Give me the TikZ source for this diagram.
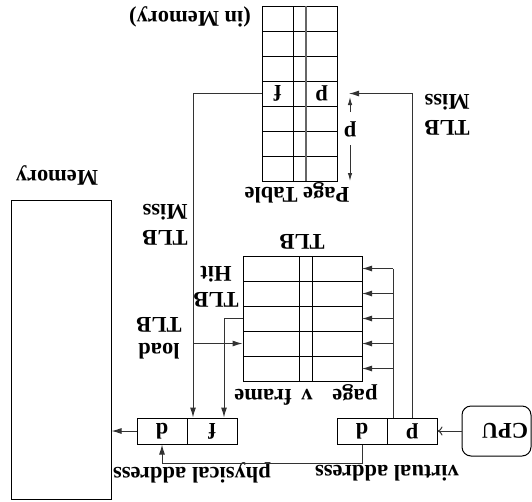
\documentclass[tikz,border=0pt]{standalone}
\usepackage{fontspec}
\setmainfont{Liberation Serif}
\usetikzlibrary{arrows.meta,calc}
\begin{document}
\begin{tikzpicture}[x=1pt,y=-1pt,
  lbl/.style={rotate=180,font=\fontsize{22.5}{26}\selectfont\bfseries,inner sep=0pt,align=center},
  box/.style={draw=black,line width=1pt,inner sep=0pt},
  cell/.style={box,minimum width=50pt,minimum height=26pt},
  grid/.style={draw=black,line width=1pt},
  conn/.style={draw=black!80,line width=1pt},
  arr/.style={conn,-{Latex[length=10pt,width=6pt]}},
  thinarr/.style={conn,-{Latex[length=8pt,width=4.5pt]}},
  openarr/.style={conn,-{To[length=5pt,width=9pt]}}
]
\useasboundingbox (0,0) rectangle (532,501);

% Memory
\node[box,minimum width=100pt,minimum height=299pt] (mem) at (61,349.5) {};
\node[lbl] (memlbl) at (57,175) {Memory};

% physical address
\node[cell] (pd) at (162,431) {};
\node[cell] (pf) at (212,431) {};
\node[lbl] (pdt) at (pd) {d};
\node[lbl] (pft) at (pf) {f};
\node[lbl] (physlbl) at (192,473) {physical address};

% virtual address
\node[cell] (vd) at (362,431) {};
\node[cell] (vp) at (412,431) {};
\node[lbl] (vdt) at (vd) {d};
\node[lbl] (vpt) at (vp) {p};
\node[lbl] (virtlbl) at (387,473) {virtual address};

% CPU
\node[box,rounded corners=9pt,minimum width=69pt,minimum height=50pt] (cpu) at (496.5,431) {};
\node[lbl] (cput) at (505,431) {CPU};

% TLB
\node[box,minimum width=119pt,minimum height=125pt] (tlb) at (302.5,318.5) {};
\foreach \yy in {281,306,331,356} \draw[grid] (243,\yy) -- (362,\yy);
\draw[grid] (299,256) -- (299,381);
\draw[grid] (312,256) -- (312,381);
\node[lbl] (tlblbl) at (302,242) {TLB};
\node[lbl] (hpage) at (355,395) {\strut page};
\node[lbl] (hv) at (307,395) {\strut v};
\node[lbl] (hframe) at (263,395) {\strut frame};

% Page table
\node[box,minimum width=75pt,minimum height=175pt] (pt) at (299.5,93.5) {};
\foreach \yy in {31,56,81,106,131,156} \draw[grid] (262,\yy) -- (337,\yy);
\draw[grid] (293,6) -- (293,181);
\draw[draw=black!60,line width=1.3pt] (306,6) -- (306,181);
\node[lbl] (ptf) at (277.5,93.5) {f};
\node[lbl] (ptp) at (321.5,93.5) {p};
\node[lbl] (ptlbl) at (297,193) {Page Table};
\node[lbl] (inmem) at (190,17) {(in Memory)};

% coordinates
\coordinate (bus) at ($(vp.north)+(-19,0)$);
\coordinate (ptrow) at (262,93.5);
\coordinate (misscorner) at (193,93.5);
\coordinate (missin) at (pf.north -| misscorner);
\coordinate (hitout) at (243,318.5);
\coordinate (hitin) at ($(pf.north)+(12,0)$);
\coordinate (loadfrom) at (193,343.5);
\coordinate (rmisstip) at (349,93.5);
\coordinate (offup) at (350,97);
\coordinate (offupfrom) at (350,112);
\coordinate (offdnfrom) at (350,145);
\coordinate (offdn) at (350,181);

% connectors
\draw[openarr] (cpu.west) -- (vp.east);
\draw[arr] (pd.west) -- (pd.west -| mem.east);
\draw[arr] (vd.south) -- ++(0,19) -| (pd.south);
\draw[conn] (bus) -- (393,268.5);
\foreach \yy in {268.5,293.5,318.5,343.5,368.5}
  \draw[arr] (393,\yy) -- (362,\yy);
\draw[arr] (hitout) -- (hitout -| hitin) -- (hitin);
\draw[arr] (ptrow) -- (misscorner) -- (missin);
\draw[arr] (loadfrom) -- (loadfrom -| tlb.west);
\draw[arr] (vp.north) -- (vp.north |- rmisstip) -- (rmisstip);
\draw[thinarr] (offupfrom) -- (offup);
\draw[thinarr] (offdnfrom) -- (offdn);
\node[lbl] (offp) at (350,129) {p};

% side labels
\node[lbl] (rmiss) at (447,115) {TLB\\Miss};
\node[lbl] (lmiss) at (165,225) {TLB\\Miss};
\node[lbl] (loadlbl) at (159,338) {load\\TLB};
\node[lbl] (hitlbl) at (216,287) {TLB\\Hit};
\end{tikzpicture}
\end{document}
